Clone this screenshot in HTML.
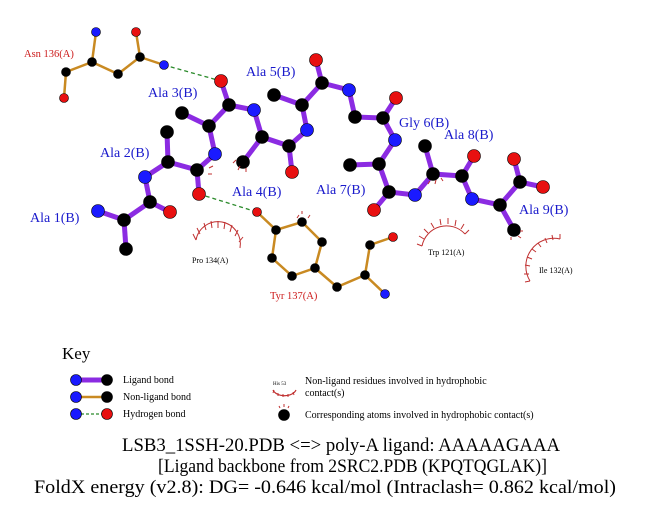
<!DOCTYPE html>
<html><head><style>body{margin:0;background:#fff}svg{display:block}</style></head><body>
<svg width="651" height="511" viewBox="0 0 651 511" xmlns="http://www.w3.org/2000/svg" font-family="Liberation Serif, serif">
<rect width="651" height="511" fill="#fff"/>
<g stroke="#c98a22" stroke-width="2.5" fill="none">
<polyline points="96,32 92,62 66,72 64,98"/><polyline points="92,62 118,74 140,57 136,32"/><line x1="140" y1="57" x2="164" y2="65"/>
<polygon points="257,212 276,230 302,222 322,242 315,268 292,276 272,258 276,230" />
<polyline points="315,268 337,287 365,275 370,245 393,237"/><line x1="365" y1="275" x2="385" y2="294"/>
</g>
<g stroke="#2a8a2a" stroke-width="1.3" stroke-dasharray="4,3"><line x1="164" y1="65" x2="221" y2="81"/><line x1="199" y1="194" x2="257" y2="212"/></g>
<g stroke="#8b2be2" stroke-width="5" fill="none" stroke-linecap="round">
<polyline points="98,211 124,220 150,202 145,177 168,162 197,170 215,154 209,126 229,105 254,110 262,137 289,146 307,130 302,105 322,83 349,90 355,117 383,118 395,140 379,164 389,192 415,195 433,174 462,176 472,199 500,205 520,182 543,187"/>
<line x1="124" y1="220" x2="126" y2="249"/><line x1="150" y1="202" x2="170" y2="212"/><line x1="168" y1="162" x2="167" y2="132"/><line x1="197" y1="170" x2="199" y2="194"/>
<line x1="209" y1="126" x2="182" y2="113"/><line x1="229" y1="105" x2="221" y2="81"/><line x1="262" y1="137" x2="243" y2="162"/><line x1="289" y1="146" x2="292" y2="172"/>
<line x1="302" y1="105" x2="274" y2="95"/><line x1="322" y1="83" x2="316" y2="60"/><line x1="383" y1="118" x2="396" y2="98"/><line x1="379" y1="164" x2="350" y2="165"/>
<line x1="389" y1="192" x2="374" y2="210"/><line x1="433" y1="174" x2="425" y2="146"/><line x1="462" y1="176" x2="474" y2="156"/><line x1="500" y1="205" x2="514" y2="230"/><line x1="520" y1="182" x2="514" y2="159"/>
</g>
<g stroke="#000" stroke-width="0.6">
<g fill="#000">
<circle cx="124" cy="220" r="6.5"/><circle cx="150" cy="202" r="6.5"/><circle cx="126" cy="249" r="6.5"/><circle cx="168" cy="162" r="6.5"/><circle cx="167" cy="132" r="6.5"/><circle cx="197" cy="170" r="6.5"/>
<circle cx="209" cy="126" r="6.5"/><circle cx="182" cy="113" r="6.5"/><circle cx="229" cy="105" r="6.5"/><circle cx="262" cy="137" r="6.5"/><circle cx="243" cy="162" r="6.5"/><circle cx="289" cy="146" r="6.5"/>
<circle cx="302" cy="105" r="6.5"/><circle cx="274" cy="95" r="6.5"/><circle cx="322" cy="83" r="6.5"/><circle cx="355" cy="117" r="6.5"/><circle cx="383" cy="118" r="6.5"/><circle cx="379" cy="164" r="6.5"/><circle cx="350" cy="165" r="6.5"/><circle cx="389" cy="192" r="6.5"/>
<circle cx="433" cy="174" r="6.5"/><circle cx="425" cy="146" r="6.5"/><circle cx="462" cy="176" r="6.5"/><circle cx="500" cy="205" r="6.5"/><circle cx="514" cy="230" r="6.5"/><circle cx="520" cy="182" r="6.5"/>
<circle cx="92" cy="62" r="4.5"/><circle cx="66" cy="72" r="4.5"/><circle cx="118" cy="74" r="4.5"/><circle cx="140" cy="57" r="4.5"/>
<circle cx="276" cy="230" r="4.5"/><circle cx="302" cy="222" r="4.5"/><circle cx="322" cy="242" r="4.5"/><circle cx="315" cy="268" r="4.5"/><circle cx="292" cy="276" r="4.5"/><circle cx="272" cy="258" r="4.5"/><circle cx="337" cy="287" r="4.5"/><circle cx="365" cy="275" r="4.5"/><circle cx="370" cy="245" r="4.5"/>
</g>
<g fill="#1a1aff">
<circle cx="98" cy="211" r="6.5"/><circle cx="145" cy="177" r="6.5"/><circle cx="215" cy="154" r="6.5"/><circle cx="254" cy="110" r="6.5"/><circle cx="307" cy="130" r="6.5"/><circle cx="349" cy="90" r="6.5"/><circle cx="395" cy="140" r="6.5"/><circle cx="415" cy="195" r="6.5"/><circle cx="472" cy="199" r="6.5"/>
<circle cx="96" cy="32" r="4.5"/><circle cx="164" cy="65" r="4.5"/><circle cx="385" cy="294" r="4.5"/>
</g>
<g fill="#e81010">
<circle cx="170" cy="212" r="6.5"/><circle cx="199" cy="194" r="6.5"/><circle cx="221" cy="81" r="6.5"/><circle cx="292" cy="172" r="6.5"/><circle cx="316" cy="60" r="6.5"/><circle cx="396" cy="98" r="6.5"/><circle cx="374" cy="210" r="6.5"/><circle cx="474" cy="156" r="6.5"/><circle cx="514" cy="159" r="6.5"/><circle cx="543" cy="187" r="6.5"/>
<circle cx="64" cy="98" r="4.5"/><circle cx="136" cy="32" r="4.5"/><circle cx="257" cy="212" r="4.5"/><circle cx="393" cy="237" r="4.5"/>
</g>
</g>
<g stroke="#c03030" stroke-width="1" fill="none">
<path d="M196,240 A22,22 0 0 1 240,248"/>
<path d="M196,240 l-3,-6 M200,234 l-3,-6 M206,230 l-2,-7 M212,228 l-1,-7 M218,228 l0,-7 M224,229 l1,-7 M230,232 l2,-7 M235,236 l3,-6 M239,242 l4,-5"/>
<path d="M422,246 A25,25 0 0 1 465,234"/>
<path d="M422,246 l-5,-2 M424,239 l-5,-3 M428,233 l-4,-4 M434,228 l-3,-5 M441,225 l-1,-6 M448,224 l0,-6 M455,226 l1,-6 M461,229 l3,-5 M465,234 l4,-4"/>
<path d="M530,281 A28,28 0 0 1 560,239"/>
<path d="M530,281 l-5,1 M529,274 l-5,0 M530,266 l-5,-1 M532,259 l-5,-2 M536,252 l-4,-3 M541,247 l-3,-4 M547,243 l-2,-5 M553,240 l-1,-5 M560,239 l0,-5"/>
<path d="M236,160 l-3,3 M240,166 l-2,4 M246,168 l0,4 M209,168 l4,-2 M208,174 l4,0 M297,218 l2,-3 M302,214 l0,-3 M308,218 l2,-3 M436,180 l-1,4 M441,178 l2,3 M430,181 l-2,3 M518,236 l3,2 M520,231 l3,0 M511,237 l0,3"/>
</g>
<g font-size="14" fill="#1a1acc">
<text x="148" y="97">Ala 3(B)</text><text x="246" y="76">Ala 5(B)</text><text x="100" y="157">Ala 2(B)</text><text x="232" y="196">Ala 4(B)</text><text x="30" y="222">Ala 1(B)</text>
<text x="399" y="127">Gly 6(B)</text><text x="444" y="139">Ala 8(B)</text><text x="316" y="194">Ala 7(B)</text><text x="519" y="214">Ala 9(B)</text>
</g>
<g font-size="10.5" fill="#cc1a1a"><text x="24" y="57">Asn 136(A)</text><text x="270" y="299">Tyr 137(A)</text></g>
<g font-size="8" fill="#000"><text x="192" y="263">Pro 134(A)</text><text x="428" y="255">Trp 121(A)</text><text x="539" y="273">Ile 132(A)</text></g>
<text x="62" y="359" font-size="17">Key</text>
<line x1="76" y1="380" x2="107" y2="380" stroke="#8b2be2" stroke-width="5"/>
<line x1="76" y1="397" x2="107" y2="397" stroke="#c98a22" stroke-width="2.5"/>
<line x1="76" y1="414" x2="107" y2="414" stroke="#2a8a2a" stroke-width="1.3" stroke-dasharray="3,2"/>
<g stroke="#000" stroke-width="0.6"><circle cx="76" cy="380" r="5.5" fill="#1a1aff"/><circle cx="107" cy="380" r="5.5" fill="#000"/><circle cx="76" cy="397" r="5.5" fill="#1a1aff"/><circle cx="107" cy="397" r="5.5" fill="#000"/><circle cx="76" cy="414" r="5.5" fill="#1a1aff"/><circle cx="107" cy="414" r="5.5" fill="#e81010"/><circle cx="284" cy="415" r="5.5" fill="#000"/></g>
<g font-size="10" fill="#000"><text x="123" y="383">Ligand bond</text><text x="123" y="400">Non-ligand bond</text><text x="123" y="417">Hydrogen bond</text>
<text x="305" y="384">Non-ligand residues involved in hydrophobic</text><text x="305" y="396">contact(s)</text><text x="305" y="418">Corresponding atoms involved in hydrophobic contact(s)</text></g>
<text x="273" y="385" font-size="5">His 53</text>
<path d="M273,390 A12,8 0 0 0 296,390" stroke="#c03030" fill="none" stroke-width="1.2"/>
<path d="M274,390 l-1,3 M278,393 l0,3 M283,394 l0,3 M288,394 l0,3 M293,392 l1,3 M280,408 l-1,-2 M284,407 l0,-3 M288,408 l1,-2" stroke="#c03030" stroke-width="1"/>
<g font-size="18.5" fill="#000">
<text x="122" y="451" textLength="438" lengthAdjust="spacingAndGlyphs">LSB3_1SSH-20.PDB &lt;=&gt; poly-A ligand: AAAAAGAAA</text>
<text x="158" y="472" textLength="389" lengthAdjust="spacingAndGlyphs">[Ligand backbone from 2SRC2.PDB (KPQTQGLAK)]</text>
<text x="34" y="493" textLength="582" lengthAdjust="spacingAndGlyphs">FoldX energy (v2.8): DG= -0.646 kcal/mol (Intraclash= 0.862 kcal/mol)</text></g>
</svg>
</body></html>
